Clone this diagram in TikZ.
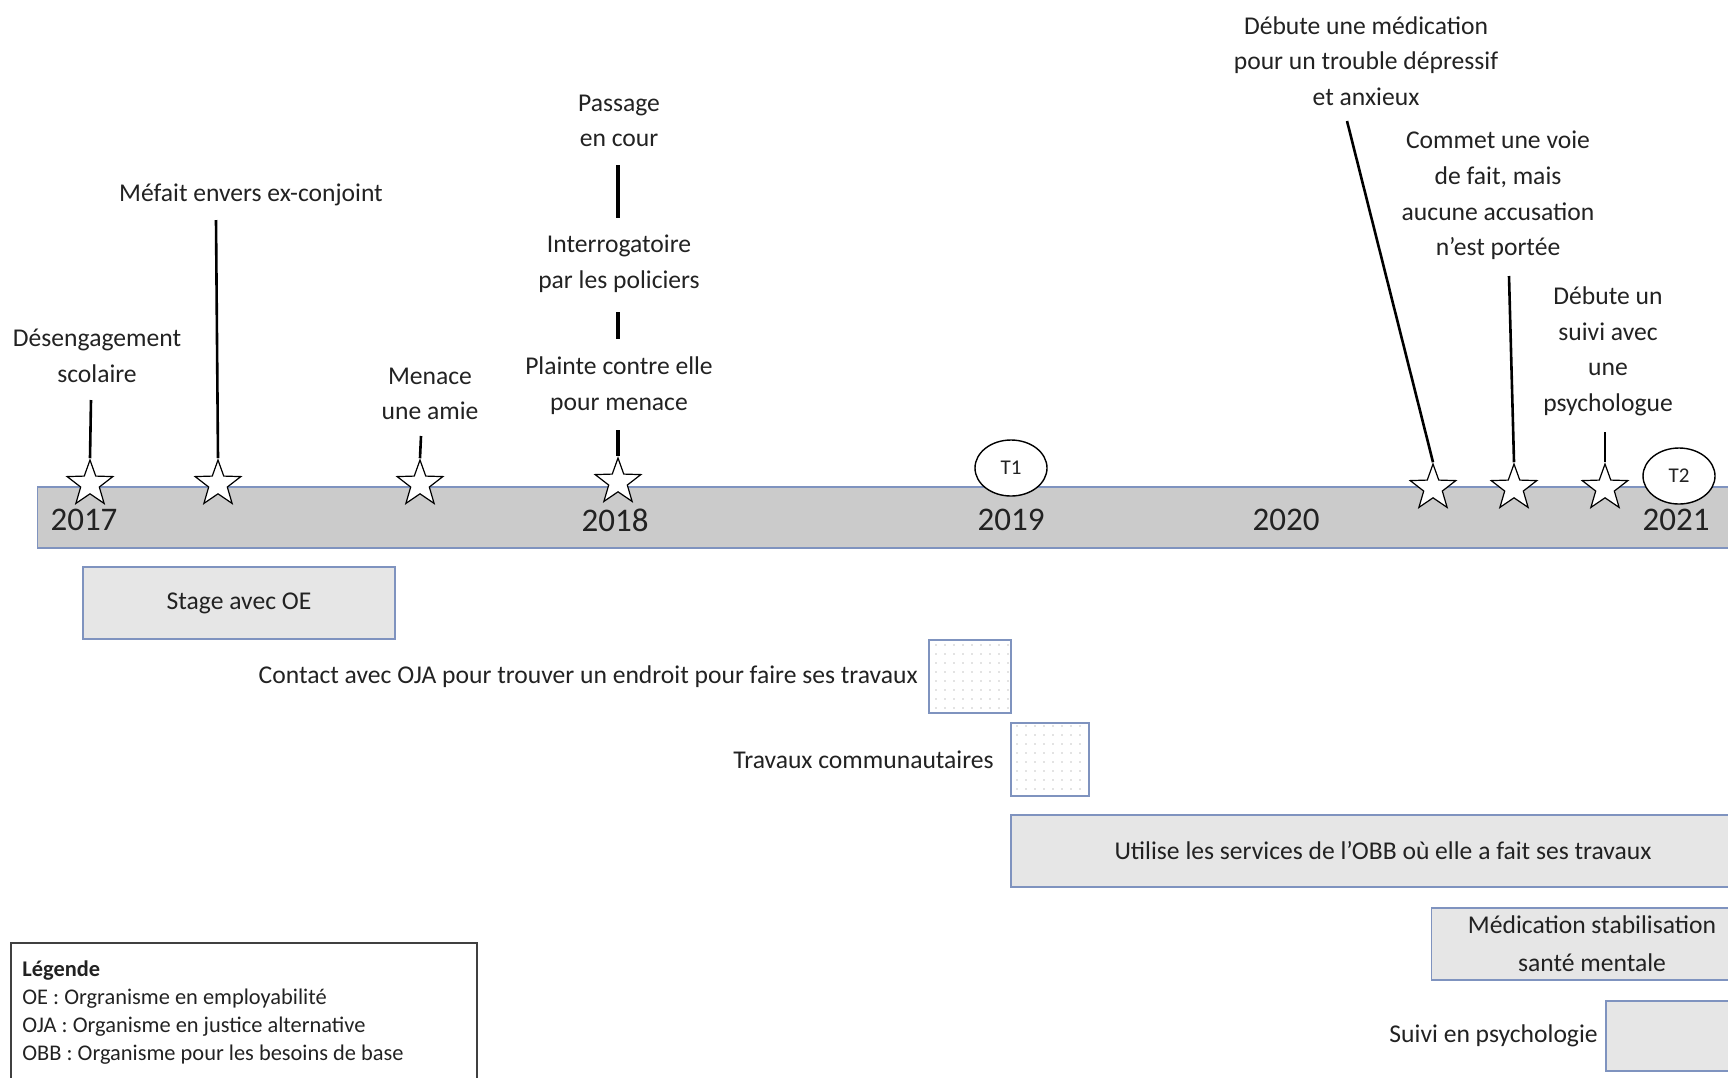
\documentclass[tikz,border=0pt]{standalone}
\usepackage{fontspec}
\setmainfont{Carlito}
\usetikzlibrary{shapes.geometric,patterns}
\pgfdeclarepatternformonly{sparsedots}{\pgfqpoint{-1pt}{-1pt}}{\pgfqpoint{1pt}{1pt}}{\pgfqpoint{4.5pt}{4.5pt}}{\pgfpathcircle{\pgfpointorigin}{0.45pt}\pgfusepath{fill}}
\definecolor{barfill}{HTML}{CBCBCB}
\definecolor{boxfill}{HTML}{E6E6E6}
\definecolor{boxline}{HTML}{7F93BF}
\definecolor{txt}{HTML}{222222}
\begin{document}
\begin{tikzpicture}[x=0.5pt,y=-0.5pt,
 lbl/.style={font=\fontsize{12.8}{17.8}\selectfont, align=center, inner sep=0pt, text=txt},
 yr/.style={font=\fontsize{16.5}{18}\selectfont, inner sep=0pt, text=txt},
 ev/.style={star, star points=5, star point ratio=2.45, minimum size=24pt, inner sep=0pt, draw=black, line width=0.6pt, fill=white},
 stem/.style={line width=1.3pt, black},
 tstem/.style={line width=2pt, black},
 period/.style={rectangle, draw=boxline, line width=0.9pt, fill=boxfill, inner sep=0pt, font=\fontsize{12.8}{19}\selectfont, text=txt, align=center},
 dotbox/.style={rectangle, draw=boxline, line width=0.9pt, pattern=sparsedots, pattern color=gray!45, inner sep=0pt},
 tmark/.style={ellipse, draw=black, line width=0.7pt, fill=white, minimum width=36pt, minimum height=28pt, inner sep=0pt, font=\fontsize{10.5}{12}\selectfont, text=txt},
 side/.style={font=\fontsize{12.8}{17.8}\selectfont, inner sep=0pt, text=txt, anchor=east}
]
\useasboundingbox (0,0) rectangle (1728,1077);

% timeline bar
\fill[barfill] (37.5,487) rectangle (1740,548);
\draw[boxline, line width=0.6pt] (1740,487) -- (37.5,487) -- (37.5,548) -- (1740,548);

% years
\node[yr] (y17) at (84,520) {2017};
\node[yr] (y18) at (615,520) {2018};
\node[yr] (y19) at (1011,520) {2019};
\node[yr] (y20) at (1286,520) {2020};
\node[yr] (y21) at (1676,520) {2021};

% time marks
\node[tmark] (t1) at (1011,468) {T1};
\node[tmark] (t2) at (1679,476) {T2};

% events (stars)
\node[ev] (e1) at (90,484) {};
\node[ev] (e2) at (218,484) {};
\node[ev] (e3) at (420,484) {};
\node[ev] (e4) at (618,482) {};
\node[ev] (e5) at (1433,488) {};
\node[ev] (e6) at (1514,488) {};
\node[ev] (e7) at (1605,488) {};

% labels
\node[lbl] (l1) at (97,356) {Désengagement\\scolaire};
\node[lbl] (l2) at (251,195) {Méfait envers ex-conjoint};
\node[lbl] (l3) at (430,394) {Menace\\une amie};
\node[lbl] (l4a) at (619,121) {Passage\\en cour};
\node[lbl] (l4b) at (619,263.5) {Interrogatoire\\par les policiers};
\node[lbl] (l4c) at (619,385.5) {Plainte contre elle\\pour menace};
\node[lbl] (l5) at (1366,61) {Débute une médication\\pour un trouble dépressif\\et anxieux};
\node[lbl] (l6) at (1498,195.5) {Commet une voie\\de fait, mais\\aucune accusation\\n’est portée};
\node[lbl] (l7) at (1608,351.5) {Débute un\\suivi avec\\une\\psychologue};

% stem tops
\coordinate (s1) at (91,400);
\coordinate (s2) at (216,220);
\coordinate (s3) at (421,436);
\coordinate (s4) at (618,430);
\coordinate (s4a) at (618,165);
\coordinate (s4b) at (618,218);
\coordinate (s4c) at (618,312);
\coordinate (s4d) at (618,339);
\coordinate (s5) at (1347,121);
\coordinate (s6) at (1509,276);
\coordinate (s7) at (1605,432);

\draw[stem] (s1) -- (e1.outer point 1);
\draw[stem] (s2) -- (e2.outer point 1);
\draw[stem] (s3) -- (e3.outer point 1);
\draw[tstem] (s4) -- (e4.outer point 1);
\draw[tstem] (s4a) -- (s4b);
\draw[tstem] (s4c) -- (s4d);
\draw[stem] (s5) -- (e5.outer point 1);
\draw[stem] (s6) -- (e6.outer point 1);
\draw[stem] (s7) -- (e7.outer point 1);

% periods
\node[period, minimum width=156pt, minimum height=36pt] (p1) at (239,603) {Stage avec OE};
\node[dotbox, minimum width=41pt, minimum height=36.5pt] (p2) at (970,676.5) {};
\node[side] (p2t) at ([xshift=-5pt]p2.west) {Contact avec OJA pour trouver un endroit pour faire ses travaux};
\node[dotbox, minimum width=39pt, minimum height=36.5pt] (p3) at (1050,759.5) {};
\node[side] (p3t) at ([xshift=-8pt]p3.west) {Travaux communautaires};
\node[period, minimum width=372pt, minimum height=36pt] (p4) at (1383,851) {Utilise les services de l’OBB où elle a fait ses travaux};
\node[period, minimum width=160.5pt, minimum height=36pt] (p5) at (1592,944) {Médication stabilisation\\santé mentale};
\node[period, minimum width=80pt, minimum height=35pt] (p6) at (1686,1036) {};
\node[side] (p6t) at ([xshift=-3.5pt]p6.west) {Suivi en psychologie};

% legend
\draw[black!75, line width=0.7pt] (11,943) rectangle (477,1100);
\node[anchor=west, align=left, inner sep=0pt, text=txt, font=\fontsize{11.2}{14}\selectfont] (leg) at (22,1012.5)
 {\textbf{Légende}\\OE : Orgranisme en employabilité\\OJA : Organisme en justice alternative\\OBB : Organisme pour les besoins de base};
\end{tikzpicture}
\end{document}
